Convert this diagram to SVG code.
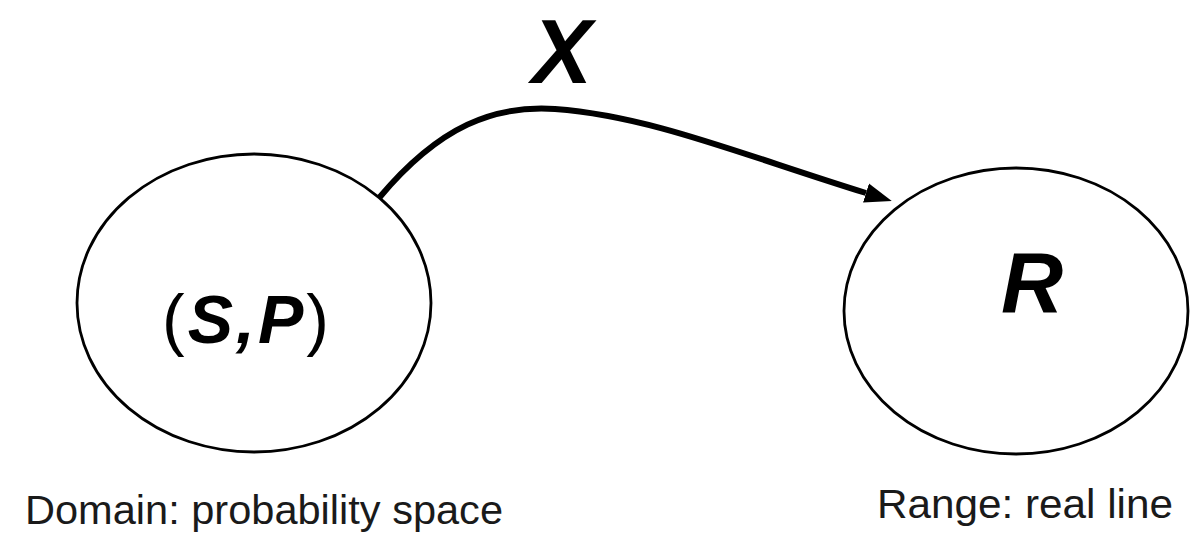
<svg xmlns="http://www.w3.org/2000/svg" width="1190" height="540" viewBox="0 0 1190 540">
<style>
.node{fill:#fff;stroke:#000;stroke-width:2.8}
.sym{font-family:"Liberation Sans",Arial,sans-serif;font-weight:bold;font-style:italic;fill:#000}
.cap{font-family:"Liberation Sans",Arial,sans-serif;fill:#1a1a1a;font-size:40px}
.edge{fill:none;stroke:#000;stroke-width:6}
</style>
<defs>
<marker id="ah" markerUnits="userSpaceOnUse" markerWidth="30" markerHeight="24" refX="0" refY="10" orient="auto" viewBox="0 0 30 20">
<polygon points="0,0 27,10 0,20" fill="#000"/>
</marker>
</defs>
<rect width="1190" height="540" fill="#fff"/>
<g id="connectors">
<path class="edge" d="M 379 198 C 440 125, 495 105, 555 109 C 650 116, 740 154, 866 193" marker-end="url(#ah)"/>
</g>
<g id="label-X">
<text class="sym" x="562" y="83" font-size="90" text-anchor="middle">X</text>
</g>
<g id="node-domain">
<ellipse class="node" cx="254" cy="303" rx="177" ry="149"/>
<text x="247" y="343" font-size="68" letter-spacing="3" text-anchor="middle" class="sym"><tspan font-weight="normal" font-style="normal">(</tspan>S,P<tspan font-weight="normal" font-style="normal">)</tspan></text>
<text class="cap" x="25" y="524" textLength="478" lengthAdjust="spacingAndGlyphs">Domain: probability space</text>
</g>
<g id="node-range">
<ellipse class="node" cx="1016" cy="311" rx="172" ry="143"/>
<text class="sym" x="1032" y="312" font-size="86" text-anchor="middle">R</text>
<text class="cap" x="877" y="518" textLength="296" lengthAdjust="spacingAndGlyphs">Range: real line</text>
</g>
</svg>
